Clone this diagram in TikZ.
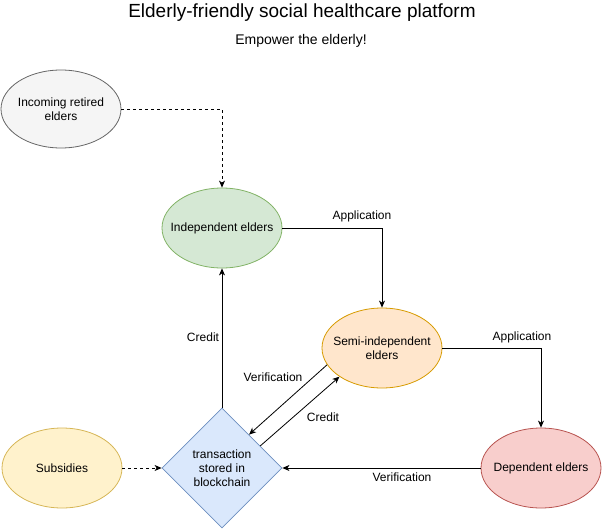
\documentclass[tikz,border=0pt]{standalone}
\usepackage{fontspec}
\setmainfont{Liberation Sans}
\usetikzlibrary{shapes.geometric,arrows.meta}
\definecolor{incfill}{HTML}{F5F5F5}\definecolor{incdraw}{HTML}{666666}
\definecolor{indfill}{HTML}{D5E8D4}\definecolor{inddraw}{HTML}{82B366}
\definecolor{semifill}{HTML}{FFE6CC}\definecolor{semidraw}{HTML}{D79B00}
\definecolor{depfill}{HTML}{F8CECC}\definecolor{depdraw}{HTML}{B85450}
\definecolor{subfill}{HTML}{FFF2CC}\definecolor{subdraw}{HTML}{D6B656}
\definecolor{diafill}{HTML}{DAE8FC}\definecolor{diadraw}{HTML}{6C8EBF}
\tikzset{
  elly/.style={ellipse, minimum width=120pt, minimum height=80pt, inner xsep=-20pt, inner ysep=0pt, line width=0.8pt, align=center, font=\fontsize{12}{14}\selectfont},
  conn/.style={line width=0.8pt, -{Stealth[length=7pt,width=6pt,inset=2pt]}},
  lbl/.style={font=\fontsize{12}{14}\selectfont, inner sep=1pt},
}
\begin{document}
\begin{tikzpicture}[x=1pt,y=-1pt]
\useasboundingbox (0,0) rectangle (603,530);
\node (title) at (302,13) {\fontsize{19}{22}\selectfont Elderly-friendly social healthcare platform};
\node (sub) at (301,41) {\fontsize{14}{16}\selectfont Empower the elderly!};
\node[elly, fill=incfill, draw=incdraw, minimum height=78pt] (inc) at (61,109) {Incoming retired\\elders};
\node[elly, fill=indfill, draw=inddraw] (ind) at (222,228) {Independent elders};
\node[elly, fill=semifill, draw=semidraw] (semi) at (382,348) {Semi-independent\\elders};
\node[elly, fill=depfill, draw=depdraw] (dep) at (541,468) {Dependent elders};
\node[elly, fill=subfill, draw=subdraw] (subs) at (62,468) {Subsidies};
\node[diamond, minimum width=120pt, minimum height=120pt, inner sep=0pt, aspect=1, fill=diafill, draw=diadraw, line width=0.8pt, align=center, font=\fontsize{12}{14}\selectfont] (dia) at (222,468) {transaction\\stored in\\blockchain};
\draw[conn, dashed] (inc.east) -| (ind.north);
\draw[conn] (ind.east) -| (semi.north);
\draw[conn] (semi.east) -| (dep.north);
\draw[conn] (dia.north) -- (ind.south);
\draw[conn] (dep.west) -- (dia.east);
\draw[conn, dashed] (subs.east) -- (dia.west);
\draw[conn] (semi.197) -- (dia.51);
\draw[conn] (dia.30) -- (semi.214);
\node[lbl] (l1) at (362,216) {Application};
\node[lbl] (l2) at (522,337) {Application};
\node[lbl] (l3) at (203,337) {Credit};
\node[lbl] (l4) at (273,377) {Verification};
\node[lbl] (l5) at (323,417) {Credit};
\node[lbl] (l6) at (402,477) {Verification};
\end{tikzpicture}
\end{document}
